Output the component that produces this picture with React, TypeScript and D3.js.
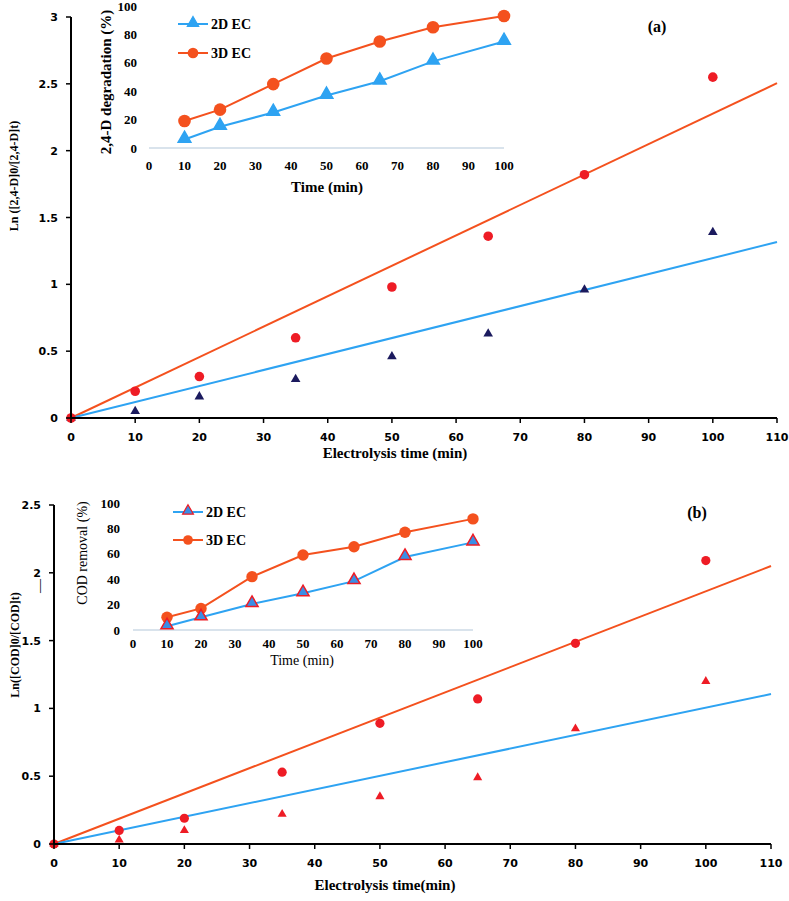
import React from "react";
import * as d3 from "d3";

// main panels: Ln(C0/Ct) vs electrolysis time
const times = [0, 10, 20, 35, 50, 65, 80, 100];
const lnA2D = [0, 0.05, 0.16, 0.29, 0.46, 0.63, 0.96, 1.39];
const lnA3D = [0, 0.2, 0.31, 0.6, 0.98, 1.36, 1.82, 2.55];
const lnB2D = [0, 0.03, 0.1, 0.22, 0.35, 0.49, 0.85, 1.2];
const lnB3D = [0, 0.1, 0.19, 0.53, 0.89, 1.07, 1.48, 2.09];

// linear fits (endpoints at t = 0 and t = 110)
const fitT = [0, 110];
const fitA2D = [0, 1.316];
const fitA3D = [0, 2.505];
const fitB2D = [0, 1.106];
const fitB3D = [0, 2.05];

// insets: removal (%) vs time
const insetTimes = [10, 20, 35, 50, 65, 80, 100];
const deg2D = [6, 15, 25, 37, 47, 61, 75];
const deg3D = [19, 27, 45, 63, 75, 85, 93];
const cod2D = [3, 10, 20.5, 29, 38.5, 57.5, 69];
const cod3D = [10, 17, 42, 59, 65.5, 77, 87.5];

const xTicks = [0, 10, 20, 30, 40, 50, 60, 70, 80, 90, 100, 110];
const yTicksA = [0, 0.5, 1, 1.5, 2, 2.5, 3];
const yTicksB = [0, 0.5, 1, 1.5, 2, 2.5];
const insetXTicks = [0, 10, 20, 30, 40, 50, 60, 70, 80, 90, 100];
const insetYTicks = [0, 20, 40, 60, 80, 100];

const BLUE = "#2ea3f2";
const ORANGE = "#f4511e";
const RED = "#ee1c25";
const NAVY = "#1b1a5e";
const SERIF = "'Liberation Serif', 'Times New Roman', serif";
const SANS = "'DejaVu Sans', Verdana, sans-serif";

const tri = (size: number) => d3.symbol(d3.symbolTriangle, size)() as string;

function MainPanel({ x0, x1, yBot, yTop, yMax, yTicks, s2D, s3D, f2D, f3D, triColor, triSize, circR, xTitle, yTitle, yTitleY, tag, tagX, tagY }: any) {
  const x = d3.scaleLinear().domain([0, 110]).range([x0, x1]);
  const y = d3.scaleLinear().domain([0, yMax]).range([yBot, yTop]);
  const line = d3.line<number>().x((_, i) => x(fitT[i])).y((d) => y(d));
  return (
    <g>
      <path d={line(f3D) as string} fill="none" stroke={ORANGE} strokeWidth={2} />
      <path d={line(f2D) as string} fill="none" stroke={BLUE} strokeWidth={2} />
      {times.map((t, i) => (
        <path key={"t" + i} d={tri(triSize)} fill={triColor} transform={`translate(${x(t)},${y(s2D[i])})`} />
      ))}
      {times.map((t, i) => (
        <circle key={"c" + i} cx={x(t)} cy={y(s3D[i])} r={circR} fill={RED} />
      ))}
      {/* axes */}
      <line x1={x0} x2={x0} y1={yTop} y2={yBot} stroke="#000" strokeWidth={2} />
      <line x1={x0} x2={x1} y1={yBot} y2={yBot} stroke="#000" strokeWidth={2} />
      {yTicks.map((v: number) => (
        <g key={"y" + v}>
          <line x1={x0 - 5} x2={x0} y1={y(v)} y2={y(v)} stroke="#000" strokeWidth={1.5} />
          <text x={x0 - 13} y={y(v) + 4} textAnchor="end" fontFamily={SANS} fontWeight="bold" fontSize={11}>{v}</text>
        </g>
      ))}
      {xTicks.map((v) => (
        <g key={"x" + v}>
          <line x1={x(v)} x2={x(v)} y1={yBot} y2={yBot + 5} stroke="#000" strokeWidth={1.5} />
          <text x={x(v)} y={yBot + 23} textAnchor="middle" fontFamily={SANS} fontWeight="bold" fontSize={11}>{v}</text>
        </g>
      ))}
      <text x={xTitle.x} y={xTitle.y} textAnchor="middle" fontFamily={SERIF} fontWeight="bold" fontSize={15}>{xTitle.text}</text>
      <text transform={`translate(${yTitle.x},${yTitleY}) rotate(-90)`} textAnchor="middle" fontFamily={SERIF} fontWeight="bold" fontSize={12}>{yTitle.text}</text>
      <text x={tagX} y={tagY} textAnchor="middle" fontFamily={SERIF} fontWeight="bold" fontSize={16}>{tag}</text>
    </g>
  );
}

function Inset({ x0, x1, y0, y1, s2D, s3D, bold, triFill, triStroke, triSize, circR, yTitle, yTitleX, yTitleY, xTitleX, xTitleY, lab, legX, legY }: any) {
  const x = d3.scaleLinear().domain([0, 100]).range([x0, x1]);
  const y = d3.scaleLinear().domain([0, 100]).range([y0, y1]);
  const line = d3.line<number>().x((_, i) => x(insetTimes[i])).y((d) => y(d));
  const fw = bold ? "bold" : "normal";
  return (
    <g>
      <line x1={x0} x2={x1} y1={y0} y2={y0} stroke="#b4c7d9" strokeWidth={1.2} />
      {insetYTicks.map((v) => (
        <text key={"iy" + v} x={lab.yRight} y={y(v) + 4.5} textAnchor="end" fontFamily={SERIF} fontWeight="bold" fontSize={13}>{v}</text>
      ))}
      {insetXTicks.map((v) => (
        <text key={"ix" + v} x={x(v)} y={lab.xBase} textAnchor="middle" fontFamily={SERIF} fontWeight="bold" fontSize={13}>{v}</text>
      ))}
      <path d={line(s3D) as string} fill="none" stroke={ORANGE} strokeWidth={2} />
      <path d={line(s2D) as string} fill="none" stroke={BLUE} strokeWidth={2} />
      {insetTimes.map((t, i) => (
        <circle key={"ic" + i} cx={x(t)} cy={y(s3D[i])} r={circR} fill={ORANGE} />
      ))}
      {insetTimes.map((t, i) => (
        <path key={"it" + i} d={tri(triSize)} fill={triFill} stroke={triStroke} strokeWidth={1.5}
          transform={`translate(${x(t)},${y(s2D[i]) - 1})`} />
      ))}
      <text transform={`translate(${yTitleX},${yTitleY}) rotate(-90)`} textAnchor="middle" fontFamily={SERIF} fontWeight={fw} fontSize={bold ? 15 : 14}>{yTitle}</text>
      <text x={xTitleX} y={xTitleY} textAnchor="middle" fontFamily={SERIF} fontWeight={fw} fontSize={bold ? 15 : 14}>Time (min)</text>
      {/* legend */}
      {[0, 1].map((k) => {
        const ly = legY[k];
        const col = k === 0 ? BLUE : ORANGE;
        return (
          <g key={"leg" + k}>
            <line x1={legX} x2={legX + 30} y1={ly} y2={ly} stroke={col} strokeWidth={2} />
            {k === 0 ? (
              <path d={tri(triSize * 0.8)} fill={triFill} stroke={triStroke} strokeWidth={1.2} transform={`translate(${legX + 15},${ly - 1})`} />
            ) : (
              <circle cx={legX + 15} cy={ly} r={circR * 0.85} fill={ORANGE} />
            )}
            <text x={legX + 33} y={ly + 5} fontFamily={SERIF} fontWeight="bold" fontSize={14}>{k === 0 ? "2D EC" : "3D EC"}</text>
          </g>
        );
      })}
    </g>
  );
}

export default function App() {
  return (
    <svg width={789} height={901} style={{ position: "absolute", left: 0, top: 0, background: "#fff" }}>
      <rect width={789} height={901} fill="#fff" />
      <MainPanel x0={71} x1={777} yBot={418} yTop={17} yMax={3} yTicks={yTicksA}
        s2D={lnA2D} s3D={lnA3D} f2D={fitA2D} f3D={fitA3D} triColor={NAVY} triSize={40} circR={4.8}
        xTitle={{ x: 395, y: 458, text: "Electrolysis time (min)" }}
        yTitle={{ x: 18, text: "Ln ([2,4-D]0/[2,4-D]t)" }} yTitleY={176}
        tag="(a)" tagX={657} tagY={32} />
      <Inset x0={149} x1={504} y0={148} y1={6} s2D={deg2D} s3D={deg3D} bold={true}
        triFill={BLUE} triStroke={BLUE} triSize={70} circR={6.3}
        yTitle="2,4-D degradation (%)" yTitleX={111} yTitleY={82} xTitleX={327} xTitleY={192}
        lab={{ yRight: 137, xBase: 170 }} legX={178} legY={[24, 53]} />
      <MainPanel x0={54} x1={771} yBot={844} yTop={505} yMax={2.5} yTicks={yTicksB}
        s2D={lnB2D} s3D={lnB3D} f2D={fitB2D} f3D={fitB3D} triColor={RED} triSize={36} circR={4.6}
        xTitle={{ x: 385, y: 890, text: "Electrolysis time(min)" }}
        yTitle={{ x: 19, text: "Ln([COD]0/[COD]t)" }} yTitleY={645}
        tag="(b)" tagX={697} tagY={518} />
      <text transform="translate(44,586) rotate(-90)" textAnchor="middle" fontFamily={SERIF} fontSize={14}>—</text>
      <Inset x0={133} x1={473} y0={630} y1={503} s2D={cod2D} s3D={cod3D} bold={false}
        triFill="#3a8ee6" triStroke={RED} triSize={64} circR={5.7}
        yTitle="COD removal (%)" yTitleX={87} yTitleY={553} xTitleX={302} xTitleY={665}
        lab={{ yRight: 120, xBase: 648 }} legX={173} legY={[512, 540]} />
    </svg>
  );
}
